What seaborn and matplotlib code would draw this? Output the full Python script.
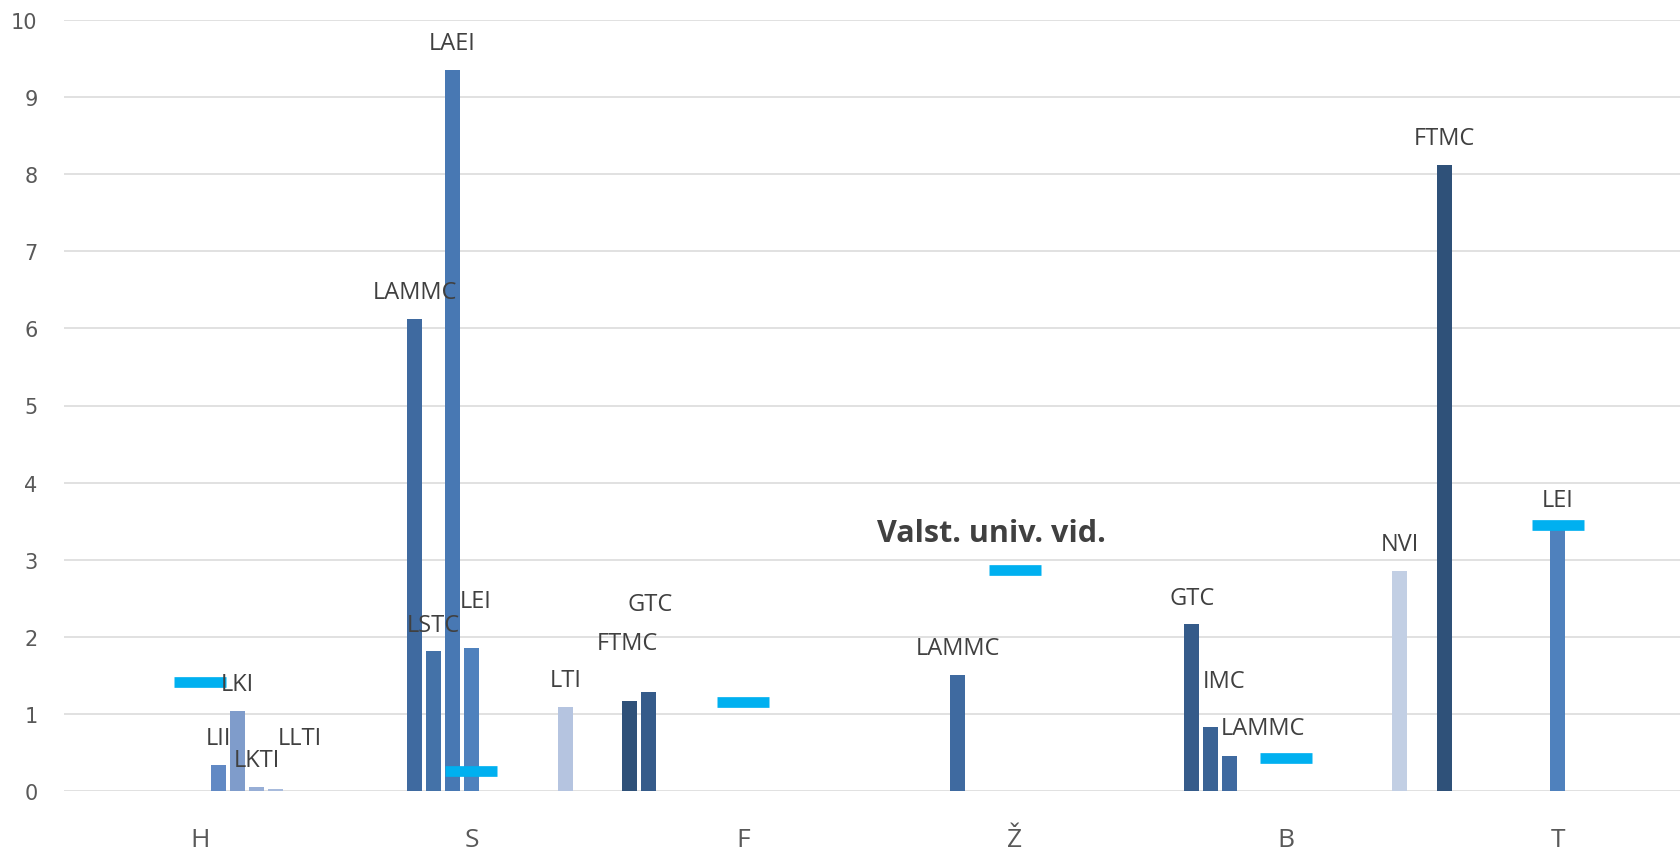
import pandas as pd
import matplotlib.pyplot as plt
import seaborn as sns

# kategorije na x osi i serije (institucije) redom kao u izvornom grafu
categories = ["H", "S", "F", "Ž", "B", "T"]
series_order = ["FTMC", "GTC", "IMC", "LAMMC", "LSTC", "LAEI", "LEI",
                "LII", "LKI", "LKTI", "LLTI", "LTI", "NVI"]

bar_category = ["H", "H", "H", "H", "S", "S", "S", "S", "S",
                "F", "F", "Ž", "B", "B", "B", "B", "T", "T"]
bar_series = ["LII", "LKI", "LKTI", "LLTI", "LAMMC", "LSTC", "LAEI", "LEI", "LTI",
              "FTMC", "GTC", "LAMMC", "GTC", "IMC", "LAMMC", "NVI", "FTMC", "LEI"]
bar_values = [0.34, 1.04, 0.05, 0.03, 6.12, 1.81, 9.35, 1.86, 1.09,
              1.17, 1.28, 1.51, 2.16, 0.83, 0.45, 2.85, 8.12, 3.42]

avg_label = "Valst. univ. vid."
avg_values = [1.41, 0.26, 1.15, 2.87, 0.43, 3.45]

# od tamno do svijetlo plave
series_colors = ["#2f5179", "#355b8a", "#3a6395", "#3f6aa0", "#4472a8", "#4878b3", "#4f81bd",
                 "#6189c4", "#7f9ccb", "#97aed6", "#a8bbdc", "#b5c4e0", "#c2cfe4"]
palette = dict(zip(series_order, series_colors))

df = pd.DataFrame({"kat": bar_category, "serija": bar_series, "vrijednost": bar_values})
avg_df = pd.DataFrame({"kat": categories, "vrijednost": avg_values})

sns.set_theme(style="white")
plt.rcParams['font.family'] = ['Open Sans', 'DejaVu Sans']

fig = plt.figure(figsize=(16.8, 8.53), dpi=100)
ax = fig.add_axes([64 / 1680, 61 / 853, 1 - 64 / 1680, 771 / 853])

BAR_W = 0.904
sns.barplot(data=df, x="kat", y="vrijednost", hue="serija", order=categories,
            hue_order=series_order, palette=palette, width=BAR_W, gap=0.21,
            dodge=True, legend=False, errorbar=None, linewidth=0, saturation=1, ax=ax)

sns.pointplot(data=avg_df, x="kat", y="vrijednost", order=categories, color="#00b0f0",
              linestyle="none", markers="_", markersize=38, markeredgewidth=7.7,
              errorbar=None, ax=ax)

# pomaknute oznake (u tockama), ostale su iznad stupca
label_offsets = {
    ("H", "LLTI"): (18, 36.7),
    ("S", "LEI"): (3.2, 33.8),
    ("F", "FTMC"): (-1.4, 41.8),
    ("F", "GTC"): (1.4, 63.4),
    ("B", "IMC"): (9.4, 33),
    ("B", "LAMMC"): (23.8, 20.2),
}

slot = BAR_W / len(series_order)
for p in ax.patches:
    h = p.get_height()
    if not h > 0:
        continue
    cx = p.get_x() + p.get_width() / 2
    ci = int(round(cx))
    si = int(round((cx - ci) / slot + (len(series_order) - 1) / 2))
    name = series_order[si]
    dx, dy = label_offsets.get((categories[ci], name), (0, 19.4))
    ax.annotate(name, (cx, h), xytext=(dx, dy), textcoords="offset points",
                ha="center", va="center", fontsize=17, color="#404040")

zi = categories.index("Ž")
ax.annotate(avg_label, (zi, avg_values[zi]), xytext=(-16.6, 26.6), textcoords="offset points",
            ha="center", va="center", fontsize=22, fontweight="bold", color="#404040")

ax.set_ylim(0, 10)
ax.set_yticks(range(0, 11))
ax.set_xlim(-0.5, 5.45)
ax.set_xlabel("")
ax.set_ylabel("")
for s in ax.spines.values():
    s.set_visible(False)
ax.grid(axis="y", color="#d9d9d9", linewidth=1.1)
ax.set_axisbelow(True)
ax.tick_params(axis="y", length=0, labelsize=15, labelcolor="#595959", pad=19)
ax.tick_params(axis="x", length=0, labelsize=19, labelcolor="#595959", pad=26)
for lab in ax.get_yticklabels():
    lab.set_family("DejaVu Sans")

plt.savefig("out.png", dpi=100)
